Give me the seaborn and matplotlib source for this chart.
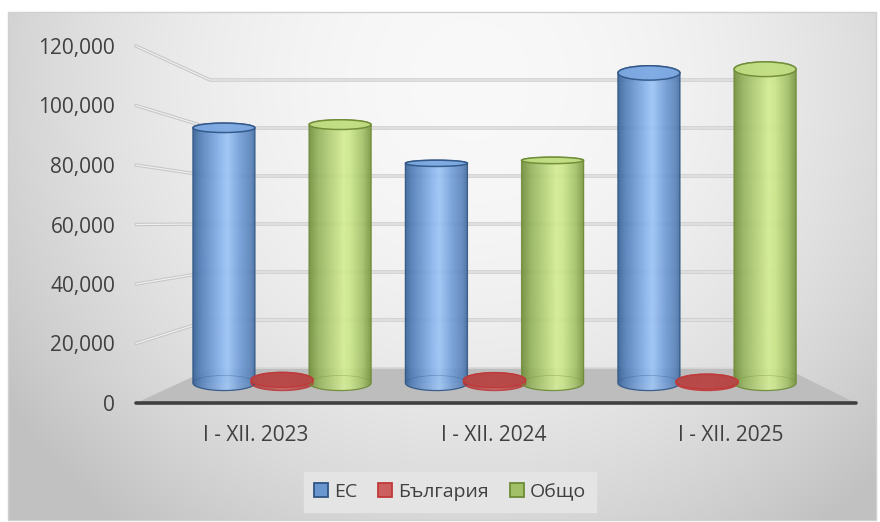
import numpy as np
import pandas as pd
import matplotlib
matplotlib.use("Agg")
import matplotlib.pyplot as plt
import seaborn as sns
from matplotlib.patches import Ellipse, PathPatch, Rectangle, Polygon, Arc
from matplotlib.path import Path
from matplotlib.colors import LinearSegmentedColormap

# ---------------- data ----------------
categories = ["I - XII. 2023", "I - XII. 2024", "I - XII. 2025"]
series_names = ["ЕС", "България", "Общо"]
eu_values = [96300, 82900, 117000]
bg_values = [1200, 1100, 500]
total_values = [97500, 84000, 118400]
y_ticks = [0, 20000, 40000, 60000, 80000, 100000, 120000]
y_tick_labels = ["0", "20,000", "40,000", "60,000", "80,000", "100,000", "120,000"]

df = pd.DataFrame({
    "category": categories * 3,
    "series": [series_names[0]] * 3 + [series_names[1]] * 3 + [series_names[2]] * 3,
    "value": eu_values + bg_values + total_values,
})

# ---------------- style ----------------
W, H = 880, 522
sns.set_theme(style="white")
plt.rcParams['font.family'] = ['Open Sans', 'DejaVu Sans']
TXT = '#404040'

base_colors = {"ЕС": "#6a98d6", "България": "#c0504d", "Общо": "#a8c86a"}
edge_colors = {"ЕС": "#2f5585", "България": "#c03a3a", "Общо": "#6d8a35"}
cap_colors = {"ЕС": "#7ea9e2", "България": "#b84848", "Общо": "#c2de84"}
grad_stops = {
    "ЕС": [(0, '#335d91'), (0.12, '#4f7cb8'), (0.45, '#8db8f0'), (0.55, '#9dc7f8'),
           (0.75, '#709cd7'), (0.92, '#5680b8'), (1, '#3a6194')],
    "България": [(0, '#a83232'), (0.5, '#c85a5a'), (1, '#a83232')],
    "Общо": [(0, '#6d8a35'), (0.15, '#93b25a'), (0.55, '#d6f094'), (0.65, '#cde98a'),
             (0.85, '#a3c166'), (1, '#708c37')],
}

fig = plt.figure(figsize=(W / 100, H / 100), dpi=100)
fig.patch.set_facecolor('white')

def fx(x):
    return x / W

def fy(y):
    return 1 - y / H

# ---------------- background / walls ----------------
bgax = fig.add_axes([0, 0, 1, 1])
bgax.set_xlim(0, W)
bgax.set_ylim(H, 0)
bgax.axis('off')

x0r, x1r, y0r, y1r = 8, 876, 12, 520
yy, xx = np.mgrid[y0r:y1r, x0r:x1r]
d2 = ((xx - 470) / 470.0) ** 2 + ((yy - 80) / 470.0) ** 2
v = np.clip(0.975 - 0.15 * d2, 0.76, 1.0)
bgax.imshow(np.dstack([v, v, v]), extent=[x0r, x1r, y1r, y0r], zorder=0, aspect='auto')
bgax.add_patch(Rectangle((x0r, y0r), x1r - x0r, y1r - y0r, fill=False,
                         edgecolor='#d0d0d0', lw=1, zorder=1))

FRONT_L, FRONT_R, FRONT_Y0, FRONT_Y120 = 136, 856, 403, 46
BACK_L, BACK_R = 210, 785

def front_y(val):
    return FRONT_Y0 - val * (FRONT_Y0 - FRONT_Y120) / 120000.0

def back_y(val):
    return 224 + (60000 - val) / 20000.0 * 48

# floor
bgax.add_patch(Polygon([(FRONT_L, 403), (FRONT_R, 403), (BACK_R, back_y(0)), (BACK_L + 2, back_y(0))],
                       closed=True, facecolor='#bdbdbd', edgecolor='none', zorder=2))
# gridlines (perspective)
for t in y_ticks:
    yf, yb = front_y(t), back_y(t)
    if t == 0:
        bgax.plot([BACK_L + 2, BACK_R], [yb, yb], color='#d8d8d8', lw=1.2, zorder=3,
                  solid_capstyle='butt')
        continue
    xs = [FRONT_L, BACK_L, BACK_R]
    ys = [yf, yb, yb]
    bgax.plot(xs, ys, color='#c6c6c6', lw=2.4, zorder=3, solid_capstyle='round')
    bgax.plot(xs, ys, color='#efefef', lw=0.9, zorder=3.1, solid_capstyle='round')
# front edge
bgax.plot([FRONT_L, FRONT_R], [403, 403], color='#3f3f3f', lw=2.6, zorder=4,
          solid_capstyle='round')

# ---------------- bars axes (mid-depth scale) ----------------
rect = [fx(FRONT_L), fy(FRONT_Y0), (FRONT_R - FRONT_L) / W, (FRONT_Y0 - FRONT_Y120) / H]
ax = fig.add_axes(rect)
ax.patch.set_alpha(0)

BAR_Y0 = 383.0
PX_PER_UNIT = 0.00265
CAT_X0, CAT_DX = 282.0, 212.5

sns.barplot(data=df, x="category", y="value", hue="series", palette=base_colors,
            width=0.82, saturation=1, ax=ax, legend=True, errorbar=None)

handles, labels = ax.get_legend_handles_labels()
if ax.get_legend() is not None:
    ax.get_legend().remove()

ax.set_xlim((FRONT_L - CAT_X0) / CAT_DX, (FRONT_R - CAT_X0) / CAT_DX)
ax.set_ylim((BAR_Y0 - FRONT_Y0) / PX_PER_UNIT, (BAR_Y0 - FRONT_Y120) / PX_PER_UNIT)
ax.set_xticks([])
ax.set_yticks([])
ax.set_xlabel("")
ax.set_ylabel("")
for s in ax.spines.values():
    s.set_visible(False)


def ypix(val):
    return BAR_Y0 - val * PX_PER_UNIT


def half_h(val):
    px = (0.09 * abs(ypix(val) - 224) + 0.8) / 2.0
    return px / PX_PER_UNIT


BAR_W = 0.292
t_lo = np.linspace(np.pi, 2 * np.pi, 40)
t_hi = np.linspace(0, np.pi, 40)

for hue_name, cont in zip(series_names, ax.containers):
    cmap = LinearSegmentedColormap.from_list(hue_name, grad_stops[hue_name])
    grad = cmap(np.linspace(0, 1, 256))[None, :, :]
    for r in cont.patches:
        xc = r.get_x() + r.get_width() / 2
        top = r.get_height()
        r.set_x(xc - BAR_W / 2)
        r.set_width(BAR_W)
        r.set_facecolor(base_colors[hue_name])
        r.set_alpha(0.35)
        r.set_edgecolor('none')
        a, b = xc - BAR_W / 2, xc + BAR_W / 2
        hb, ht = half_h(0), half_h(top)
        pts = [(a, top), (a, 0)]
        pts += [(xc + BAR_W / 2 * np.cos(t), hb * np.sin(t)) for t in t_lo]
        pts += [(b, 0), (b, top)]
        pts += [(xc + BAR_W / 2 * np.cos(t), top + ht * np.sin(t)) for t in t_hi]
        body = Polygon(pts, closed=True, transform=ax.transData, facecolor='none',
                       edgecolor=edge_colors[hue_name], lw=0.9, alpha=0.9, zorder=3)
        ax.add_patch(body)
        im = ax.imshow(grad, extent=[a, b, -hb, top + ht], aspect='auto',
                       alpha=0.85, zorder=2.5, interpolation='bilinear')
        im.set_clip_path(body)
        # back half of bottom rim, seen through
        ax.add_patch(Arc((xc, 0), BAR_W, 2 * hb, theta1=0, theta2=180,
                         edgecolor=edge_colors[hue_name], lw=0.6, alpha=0.35, zorder=3.2))
        # top cap
        ax.add_patch(Ellipse((xc, top), BAR_W, 2 * ht, facecolor=cap_colors[hue_name],
                             edgecolor=edge_colors[hue_name], lw=1.1, alpha=0.92, zorder=4))

ax.set_xlim((FRONT_L - CAT_X0) / CAT_DX, (FRONT_R - CAT_X0) / CAT_DX)
ax.set_ylim((BAR_Y0 - FRONT_Y0) / PX_PER_UNIT, (BAR_Y0 - FRONT_Y120) / PX_PER_UNIT)

# ---------------- front axes for tick labels ----------------
axf = fig.add_axes(rect)
axf.patch.set_alpha(0)
LAB_X0, LAB_DX = 256.0, 237.5
axf.set_xlim((FRONT_L - LAB_X0) / LAB_DX, (FRONT_R - LAB_X0) / LAB_DX)
axf.set_ylim(0, 120000)
axf.set_yticks(y_ticks)
axf.set_yticklabels(y_tick_labels)
axf.set_xticks(range(len(categories)))
axf.set_xticklabels(categories)
axf.tick_params(axis='y', length=0, pad=15, labelsize=15, labelcolor=TXT)
axf.tick_params(axis='x', length=0, pad=16, labelsize=15, labelcolor=TXT)
for s in axf.spines.values():
    s.set_visible(False)
axf.grid(False)

# ---------------- legend ----------------
leg = fig.legend(handles, labels, loc='center', bbox_to_anchor=(fx(450), fy(492)),
                 ncol=3, frameon=True, fontsize=14, handlelength=0.7, handleheight=0.7,
                 handletextpad=0.3, columnspacing=1.1, borderpad=0.55, fancybox=False)
leg.get_frame().set_facecolor('#e4e4e4')
leg.get_frame().set_edgecolor('#e4e4e4')
leg.get_frame().set_alpha(1)
for txt in leg.get_texts():
    txt.set_color(TXT)
legend_fill = {"ЕС": "#6a96d0", "България": "#cc6060", "Общо": "#a2c068"}
for hnd, lab in zip(leg.legend_handles, labels):
    hnd.set_facecolor(legend_fill[lab])
    hnd.set_edgecolor(edge_colors[lab])
    hnd.set_linewidth(1.3)
    hnd.set_alpha(1)

fig.savefig("out.png", dpi=100)
